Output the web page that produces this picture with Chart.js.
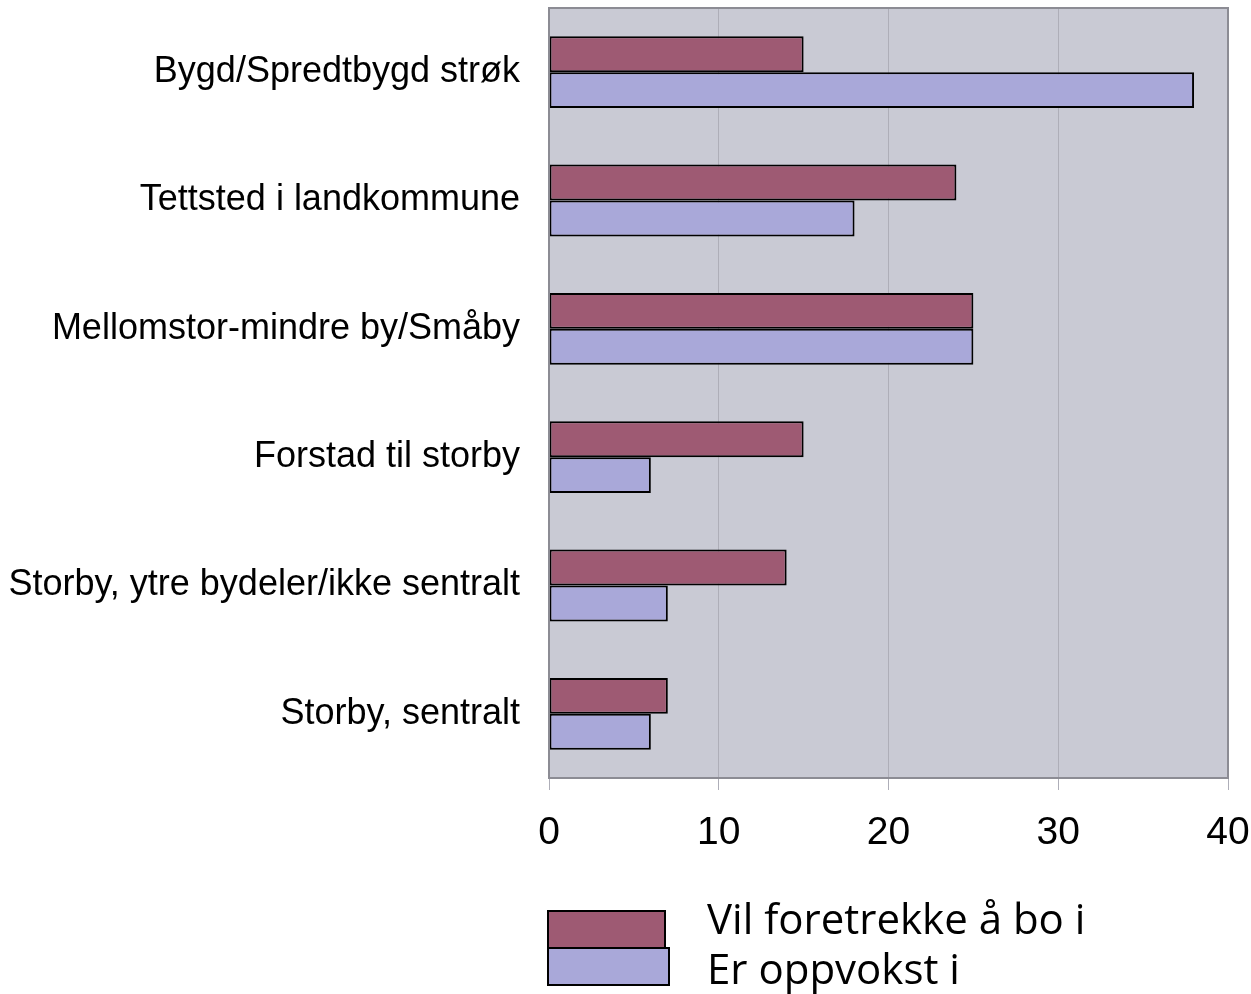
<!DOCTYPE html>
<html>
<head>
<meta charset="utf-8">
<script src="https://cdn.jsdelivr.net/npm/chart.js@4/dist/chart.umd.min.js"></script>
<style>
  html, body { margin: 0; padding: 0; background: #fff; }
  #wrap { position: relative; width: 1251px; height: 994px; }
  #chart { position: absolute; left: 0; top: 0; }
  .sw { position: absolute; border: 2px solid #000; box-sizing: border-box; }
  .lt { position: absolute; font-family: "Open Sans", sans-serif; font-size: 42px; color: #000; white-space: nowrap; line-height: 1; }
</style>
</head>
<body>
<div id="wrap">
  <canvas id="chart" width="1251" height="994"></canvas>
  <div class="sw" style="left:547px;top:910px;width:119px;height:39px;background:#9e5a73"></div>
  <div class="sw" style="left:547px;top:947px;width:123px;height:39px;background:#a9a8d9"></div>
  <div class="lt" id="leg0" style="left:707px;top:897px"></div>
  <div class="lt" id="leg1" style="left:707px;top:947px"></div>
</div>
<script>
// ---------- Dades ----------
const categories = [
  "Bygd/Spredtbygd strøk",
  "Tettsted i landkommune",
  "Mellomstor-mindre by/Småby",
  "Forstad til storby",
  "Storby, ytre bydeler/ikke sentralt",
  "Storby, sentralt"
];
const serieNames = ["Vil foretrekke å bo i", "Er oppvokst i"];
const vilBo = [15, 24, 25, 15, 14, 7];
const oppvokst = [38, 18, 25, 6, 7, 6];
const xTicks = [0, 10, 20, 30, 40];

document.getElementById("leg0").textContent = serieNames[0];
document.getElementById("leg1").textContent = serieNames[1];

// bakgrunn + ramme for plottområdet
const plotBg = {
  id: "plotBg",
  beforeDraw(chart) {
    const a = chart.chartArea;
    const ctx = chart.ctx;
    ctx.save();
    ctx.fillStyle = "#c9cad4";
    ctx.fillRect(a.left, a.top, a.right - a.left, a.bottom - a.top);
    ctx.restore();
  },
  afterDraw(chart) {
    const a = chart.chartArea;
    const ctx = chart.ctx;
    ctx.save();
    ctx.strokeStyle = "#8c8c94";
    ctx.lineWidth = 2;
    ctx.strokeRect(a.left, a.top, a.right - a.left, a.bottom - a.top);
    ctx.restore();
  }
};

new Chart(document.getElementById("chart"), {
  type: "bar",
  data: {
    labels: categories,
    datasets: [
      {
        label: serieNames[0],
        data: vilBo,
        backgroundColor: "#9e5a73",
        borderColor: "#000",
        borderWidth: 2,
        borderSkipped: false,
        categoryPercentage: 0.56,
        barPercentage: 1
      },
      {
        label: serieNames[1],
        data: oppvokst,
        backgroundColor: "#a9a8d9",
        borderColor: "#000",
        borderWidth: 2,
        borderSkipped: false,
        categoryPercentage: 0.56,
        barPercentage: 1
      }
    ]
  },
  options: {
    indexAxis: "y",
    responsive: false,
    animation: false,
    layout: { padding: { top: 8, right: 23, left: 0, bottom: 0 } },
    plugins: {
      legend: { display: false },
      tooltip: { enabled: false }
    },
    scales: {
      x: {
        min: 0,
        max: 40,
        afterBuildTicks: s => { s.ticks = xTicks.map(v => ({ value: v })); },
        afterFit: s => {
          s.height = 994 - 778;
          s.paddingLeft = 0;
          s.paddingRight = 0;
        },
        grid: {
          color: "#aeaeb8",
          lineWidth: 1,
          tickLength: 12,
          tickColor: "#aeaeb8"
        },
        border: { display: false },
        ticks: {
          color: "#000",
          padding: 20,
          maxRotation: 0,
          font: { family: "Liberation Sans", size: 39 }
        }
      },
      y: {
        afterFit: s => {
          s.width = 549;
          s.paddingTop = 0;
          s.paddingBottom = 0;
        },
        grid: { display: false },
        border: { display: false },
        ticks: {
          color: "#000",
          padding: 21,
          font: { family: "Liberation Sans", size: 36 }
        }
      }
    }
  },
  plugins: [plotBg]
});
</script>
</body>
</html>
